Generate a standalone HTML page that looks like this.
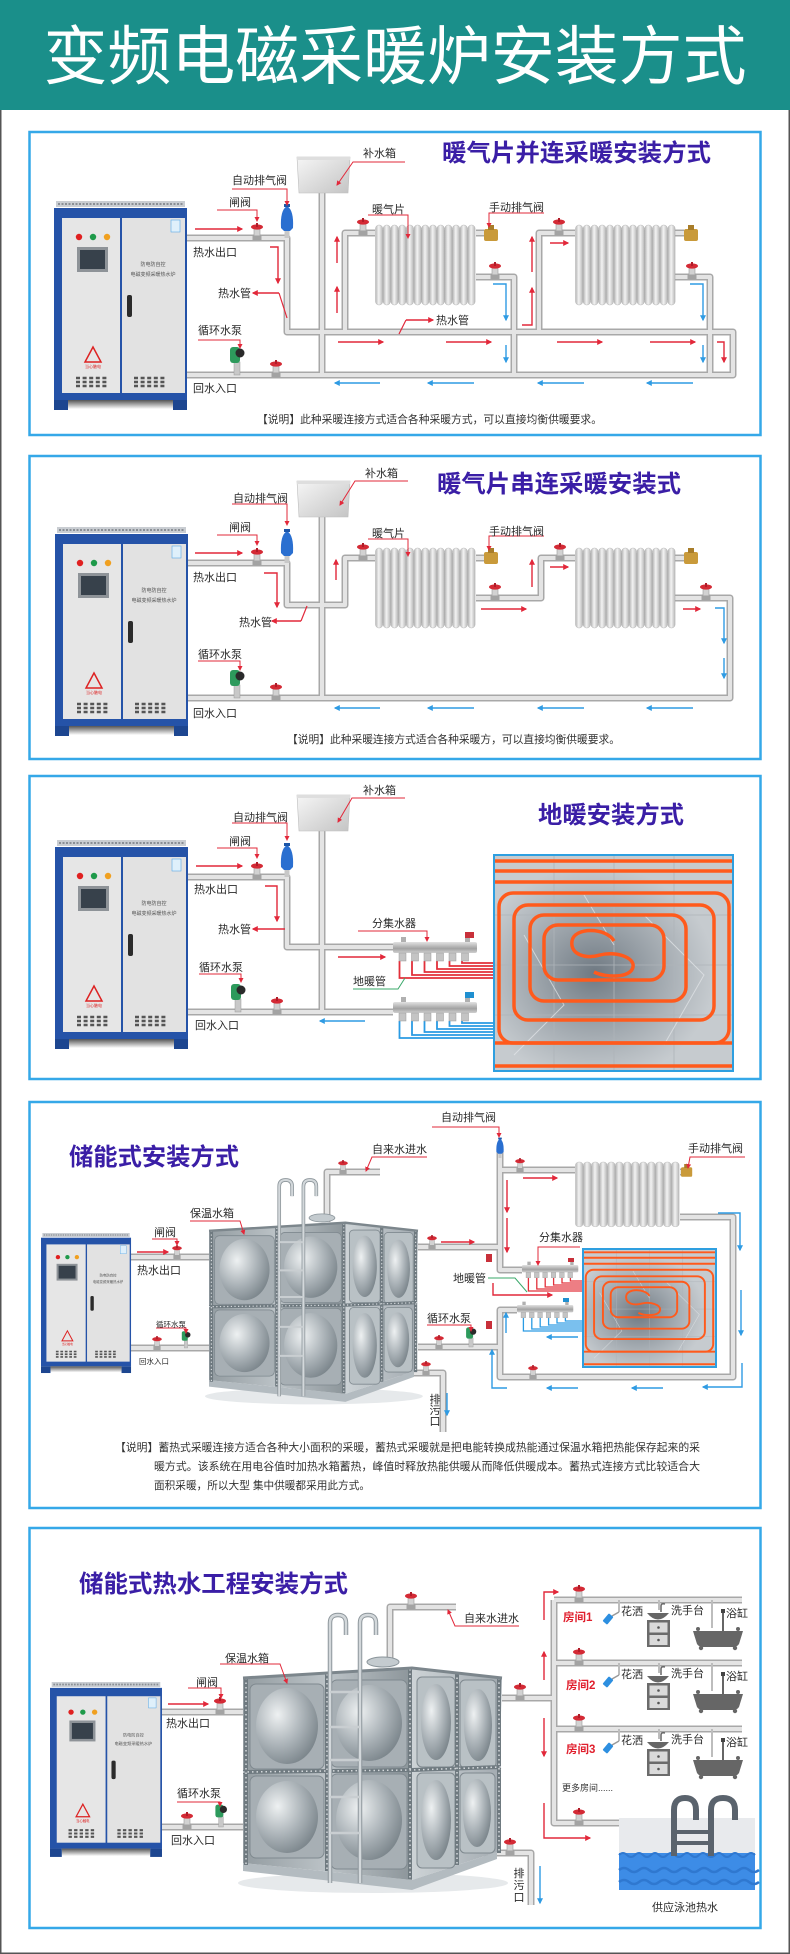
<!DOCTYPE html>
<html><head><meta charset="utf-8">
<style>
html,body{margin:0;padding:0;background:#fff;}
svg{display:block;}
text{font-family:"Liberation Sans","Noto Sans CJK SC",sans-serif;}
.l{font-size:11px;fill:#2a2a2a;}
.t{font-size:24px;font-weight:bold;fill:#3a1ea6;}
.d{font-size:11px;fill:#333;}
.po{fill:none;stroke:#a8a8a8;stroke-width:7;stroke-linejoin:round;}
.pi{fill:none;stroke:#e4e4e4;stroke-width:4;stroke-linejoin:round;}
.ra path{fill:none;stroke:#e2283a;stroke-width:1.4;marker-end:url(#mr);}
.ba path{fill:none;stroke:#2f9be3;stroke-width:1.4;marker-end:url(#mb);}
.ld path{fill:none;stroke:#e2283a;stroke-width:1;marker-end:url(#ms);}
.gl{fill:none;stroke:#3aa86a;stroke-width:1;}
.pb{fill:none;stroke:#35a8e8;stroke-width:2.5;}
</style></head>
<body>
<svg width="790" height="1954" viewBox="0 0 790 1954" xmlns="http://www.w3.org/2000/svg">
<defs>
<marker id="mr" viewBox="0 0 10 10" refX="8" refY="5" markerUnits="userSpaceOnUse" markerWidth="7" markerHeight="6" orient="auto"><path d="M0 0L10 5L0 10z" fill="#e2283a"/></marker>
<marker id="mb" viewBox="0 0 10 10" refX="8" refY="5" markerUnits="userSpaceOnUse" markerWidth="7" markerHeight="6" orient="auto"><path d="M0 0L10 5L0 10z" fill="#2f9be3"/></marker>
<marker id="ms" viewBox="0 0 10 10" refX="8" refY="5" markerUnits="userSpaceOnUse" markerWidth="5" markerHeight="5" orient="auto"><path d="M0 0L10 5L0 10z" fill="#e2283a"/></marker>
<linearGradient id="gRib" x1="0" x2="1"><stop offset="0" stop-color="#b5b5b5"/><stop offset=".45" stop-color="#f3f3f3"/><stop offset="1" stop-color="#b9b9b9"/></linearGradient>
<linearGradient id="gBox" x1="0" x2="1" y1="0" y2="1"><stop offset="0" stop-color="#f6f6f6"/><stop offset="1" stop-color="#c4c4c4"/></linearGradient>
<linearGradient id="gMf" x1="0" x2="0" y1="0" y2="1"><stop offset="0" stop-color="#e2e2e2"/><stop offset=".6" stop-color="#a2a2a2"/><stop offset="1" stop-color="#cfcfcf"/></linearGradient>
<linearGradient id="gFeet" x1="0" x2="0" y1="0" y2="1"><stop offset="0" stop-color="#555"/><stop offset="1" stop-color="#fff"/></linearGradient>
<linearGradient id="gTf" x1="0" x2="1"><stop offset="0" stop-color="#939ca1"/><stop offset=".5" stop-color="#bcc3c7"/><stop offset="1" stop-color="#8c959a"/></linearGradient>
<linearGradient id="gTr" x1="0" x2="1"><stop offset="0" stop-color="#cdd3d6"/><stop offset="1" stop-color="#a2aab0"/></linearGradient>
<radialGradient id="gBul" cx=".35" cy=".35" r=".7"><stop offset="0" stop-color="#eef1f2"/><stop offset=".6" stop-color="#a9b1b6"/><stop offset="1" stop-color="#7d878d"/></radialGradient>
<radialGradient id="gFhC" cx=".42" cy=".55" r=".5"><stop offset="0" stop-color="#5f6a74" stop-opacity=".85"/><stop offset="1" stop-color="#6f7a84" stop-opacity="0"/></radialGradient>

<g id="cab">
 <rect x="2" y="0" width="129" height="6" fill="#c9cdd2"/>
 <line x1="4" y1="3" x2="129" y2="3" stroke="#8a8f95" stroke-width="2" stroke-dasharray="2 1.5"/>
 <rect x="0" y="7" width="133" height="192" fill="#2553a8"/>
 <rect x="8" y="17" width="58" height="175" fill="#e6e6e6"/>
 <rect x="68" y="17" width="63" height="175" fill="#e2e2e2"/>
 <rect x="14" y="199" width="105" height="9" fill="url(#gFeet)"/>
 <rect x="0" y="199" width="14" height="10" fill="#1d4690"/>
 <rect x="119" y="199" width="14" height="10" fill="#1d4690"/>
 <circle cx="25" cy="36" r="3.2" fill="#e02020"/>
 <circle cx="39" cy="36" r="3.2" fill="#1e9a4a"/>
 <circle cx="53" cy="36" r="3.2" fill="#f0a020"/>
 <rect x="23" y="46" width="31" height="25" fill="#8e9398"/>
 <rect x="26" y="49" width="25" height="19" fill="#37414b"/>
 <text x="99" y="65" font-size="5" fill="#555" text-anchor="middle">防电防自控</text>
 <text x="99" y="75" font-size="5" fill="#555" text-anchor="middle">电磁变频采暖热水炉</text>
 <rect x="73" y="94" width="5" height="22" rx="2" fill="#2b2b2b"/>
 <path d="M39 146L47 161H31Z" fill="none" stroke="#d22" stroke-width="1.5"/>
 <text x="39" y="167" font-size="4" fill="#d22" text-anchor="middle">当心触电</text>
 <path d="M22 177H55M22 181H55M22 185H55M80 177H113M80 181H113M80 185H113" stroke="#555" stroke-width="2.5" stroke-dasharray="4 2.6"/>
 <rect x="117" y="19" width="9" height="12" fill="#dff0fb" stroke="#5aa9e6" stroke-width=".6"/>
</g>

<g id="rad">
 <rect x="1" y="5" width="99" height="70" fill="#c6c6c6"/>
 <rect x="0.5" y="0" width="7.2" height="80" rx="3.5" fill="url(#gRib)" stroke="#a8a8a8" stroke-width=".4"/>
 <rect x="8.2" y="0" width="7.2" height="80" rx="3.5" fill="url(#gRib)" stroke="#a8a8a8" stroke-width=".4"/>
 <rect x="15.9" y="0" width="7.2" height="80" rx="3.5" fill="url(#gRib)" stroke="#a8a8a8" stroke-width=".4"/>
 <rect x="23.6" y="0" width="7.2" height="80" rx="3.5" fill="url(#gRib)" stroke="#a8a8a8" stroke-width=".4"/>
 <rect x="31.3" y="0" width="7.2" height="80" rx="3.5" fill="url(#gRib)" stroke="#a8a8a8" stroke-width=".4"/>
 <rect x="39" y="0" width="7.2" height="80" rx="3.5" fill="url(#gRib)" stroke="#a8a8a8" stroke-width=".4"/>
 <rect x="46.7" y="0" width="7.2" height="80" rx="3.5" fill="url(#gRib)" stroke="#a8a8a8" stroke-width=".4"/>
 <rect x="54.4" y="0" width="7.2" height="80" rx="3.5" fill="url(#gRib)" stroke="#a8a8a8" stroke-width=".4"/>
 <rect x="62.1" y="0" width="7.2" height="80" rx="3.5" fill="url(#gRib)" stroke="#a8a8a8" stroke-width=".4"/>
 <rect x="69.8" y="0" width="7.2" height="80" rx="3.5" fill="url(#gRib)" stroke="#a8a8a8" stroke-width=".4"/>
 <rect x="77.5" y="0" width="7.2" height="80" rx="3.5" fill="url(#gRib)" stroke="#a8a8a8" stroke-width=".4"/>
 <rect x="85.2" y="0" width="7.2" height="80" rx="3.5" fill="url(#gRib)" stroke="#a8a8a8" stroke-width=".4"/>
 <rect x="92.9" y="0" width="7.2" height="80" rx="3.5" fill="url(#gRib)" stroke="#a8a8a8" stroke-width=".4"/>
</g>

<g id="mv"><rect x="0" y="-6" width="14" height="12" rx="2" fill="#c99a3a"/><rect x="4" y="-10" width="6" height="5" fill="#a87d2a"/></g>
<g id="xt"><path d="M0 0H53L51 36H2Z" fill="url(#gBox)" stroke="#bdbdbd" stroke-width=".6"/><rect x="0" y="0" width="53" height="3" fill="#dedede"/></g>
<g id="vl"><rect x="-3" y="-10" width="6" height="10" fill="#d2d2d2" stroke="#9a9a9a" stroke-width=".6"/><rect x="-4.5" y="-2.5" width="9" height="5" fill="#a3a3a3"/><ellipse cx="0" cy="-11" rx="6" ry="2.6" fill="#d42a35"/><rect x="-1" y="-15" width="2" height="4" fill="#b01c28"/></g>
<g id="pm"><rect x="-3" y="-13" width="6" height="13" fill="#c8c8c8" stroke="#999" stroke-width=".5"/><rect x="-7" y="-28" width="10" height="16" rx="3" fill="#2d9a5c"/><circle cx="3" cy="-22" r="4.5" fill="#2a2a2a"/></g>
<g id="av"><rect x="-2.5" y="-9" width="5" height="9" fill="#c8c8c8"/><path d="M-6 -10Q-7 -28 0 -32Q7 -28 6 -10L3 -7H-3Z" fill="#2a6fd0"/><rect x="-3" y="-34" width="6" height="3" fill="#1d56a8"/></g>
<g id="mf">
 <rect x="8" y="-5" width="5" height="6" fill="#b0b0b0"/><rect x="72" y="-5" width="5" height="6" fill="#b0b0b0"/>
 <rect x="0" y="0" width="84" height="11" rx="2" fill="url(#gMf)"/>
 <rect x="6" y="11" width="7" height="8" fill="#c4c4c4" stroke="#999" stroke-width=".5"/>
 <rect x="18.5" y="11" width="7" height="8" fill="#c4c4c4" stroke="#999" stroke-width=".5"/>
 <rect x="31" y="11" width="7" height="8" fill="#c4c4c4" stroke="#999" stroke-width=".5"/>
 <rect x="43.5" y="11" width="7" height="8" fill="#c4c4c4" stroke="#999" stroke-width=".5"/>
 <rect x="56" y="11" width="7" height="8" fill="#c4c4c4" stroke="#999" stroke-width=".5"/>
 <rect x="68.5" y="11" width="7" height="8" fill="#c4c4c4" stroke="#999" stroke-width=".5"/>
</g>
<g id="fh">
 <rect width="240" height="216" fill="#c6cbcf"/>
 <rect width="240" height="216" fill="url(#gFhC)"/>
 <path d="M0 60H240M0 110H240M0 160H240M60 0V216M120 0V216M180 0V216" stroke="#aeb4b9" stroke-width=".8" fill="none"/>
 <path d="M30 80L70 150L20 200M150 60L210 120L170 190M90 40L120 90" stroke="#e4e7e9" stroke-width="1" fill="none" opacity=".7"/>
 <g fill="none" stroke="#ff5a1c" stroke-width="3.5">
  <path d="M0 6H240M0 16H240M0 27H240M0 188H240M0 211H240"/>
  <rect x="5" y="38" width="230" height="150" rx="14"/>
  <rect x="20" y="50" width="200" height="115" rx="14"/>
  <rect x="36" y="60" width="156" height="86" rx="14"/>
  <rect x="50" y="70" width="120" height="55" rx="14"/>
  <path d="M120 86C112 72 80 72 78 86C76 100 92 104 106 100C121 96 141 102 139 112C137 123 112 123 100 117"/>
 </g>
</g>
<g id="tank">
 <ellipse cx="130" cy="268" rx="135" ry="10" fill="#e6e9eb"/>
 <path d="M0 248L169 265L254 237V244L169 275L0 256Z" fill="#b3bbc0"/>
 <path d="M0 63L169 53V265L0 248Z" fill="url(#gTf)"/>
 <path d="M169 53L259 63L254 237L169 265Z" fill="url(#gTr)"/>
 <g stroke="#7f898f" stroke-width="1" fill="#a7afb4">
  <rect x="7" y="69" width="74" height="85" rx="6"/>
  <rect x="88" y="65" width="76" height="87" rx="6"/>
  <rect x="7" y="161" width="74" height="82" rx="6"/>
  <rect x="88" y="159" width="76" height="95" rx="6"/>
  <rect x="174" y="62" width="38" height="90" rx="5" fill="#b9c1c5"/>
  <rect x="217" y="65" width="36" height="88" rx="5" fill="#b9c1c5"/>
  <rect x="174" y="158" width="38" height="95" rx="5" fill="#b9c1c5"/>
  <rect x="217" y="158" width="35" height="80" rx="5" fill="#b9c1c5"/>
 </g>
 <g fill="url(#gBul)">
  <ellipse cx="44" cy="111" rx="31" ry="38"/>
  <ellipse cx="126" cy="108" rx="33" ry="38"/>
  <ellipse cx="44" cy="202" rx="31" ry="36"/>
  <ellipse cx="126" cy="205" rx="33" ry="40"/>
  <ellipse cx="193" cy="107" rx="15" ry="38"/>
  <ellipse cx="235" cy="110" rx="14" ry="36"/>
  <ellipse cx="193" cy="205" rx="15" ry="40"/>
  <ellipse cx="234" cy="198" rx="14" ry="34"/>
 </g>
 <path d="M3 63V250M84 59V256M167 54V264M214 58V250M256 63V238M0 157L169 155L258 152" stroke="#6f7a80" stroke-width="4" fill="none"/>
 <path d="M3 63V250M84 59V256M167 54V264M214 58V250M256 63V238M0 157L169 155L258 152" stroke="#d6dadd" stroke-width="1.5" stroke-dasharray="1.5 3" fill="none"/>
 <path d="M0 63L169 53L259 63" stroke="#7c868c" stroke-width="3" fill="none"/>
 <ellipse cx="140" cy="47" rx="16" ry="5" fill="#c4cbcf" stroke="#8a949a"/>
 <path d="M87 268V8Q87 0 95 0Q103 0 103 8V20M117 268V8Q117 0 125 0Q133 0 133 8V20" stroke="#8d969b" stroke-width="4.5" fill="none"/>
 <path d="M87 268V8Q87 0 95 0Q103 0 103 8V20M117 268V8Q117 0 125 0Q133 0 133 8V20" stroke="#d3d8db" stroke-width="2.5" fill="none"/>
 <path d="M87 77H117M87 112H117M87 145H117M87 182H117M87 218H117" stroke="#c9ced1" stroke-width="2.5"/>
</g>
<g id="room">
 <path d="M79 0V12M119 0V10M172 0V28" stroke="#bdbdbd" stroke-width="2"/>
 <path d="M79 12L72 16" stroke="#999" stroke-width="1.5"/>
 <g transform="translate(68,19) rotate(40)"><rect x="-3" y="-5" width="6" height="10" rx="1" fill="#2d8fe0"/></g>
 <path d="M107 13Q118 26 129 13Z" fill="#666"/>
 <path d="M121 12V6Q121 3 125 4" stroke="#666" stroke-width="1.5" fill="none"/>
 <rect x="107" y="20" width="23" height="27" fill="#6b6b6b"/>
 <rect x="109.5" y="22.5" width="18" height="10" fill="#dadada"/>
 <rect x="109.5" y="35" width="18" height="10" fill="#dadada"/>
 <circle cx="118.5" cy="27.5" r="1.3" fill="#555"/><circle cx="118.5" cy="40" r="1.3" fill="#555"/>
 <path d="M153 31H203L199 44Q197 47 193 47H163Q159 47 157 44Z" fill="#666"/>
 <circle cx="161" cy="48" r="2.2" fill="#666"/><circle cx="195" cy="48" r="2.2" fill="#666"/>
 <circle cx="158" cy="29" r="2" fill="#666"/><circle cx="198" cy="29" r="2" fill="#666"/>
 <path d="M183 11V31" stroke="#555" stroke-width="1.8"/><rect x="181" y="9" width="4" height="4" fill="#444"/>
 <text class="l" x="81" y="15">花洒</text>
 <text class="l" x="131" y="14">洗手台</text>
 <text class="l" x="186" y="17">浴缸</text>
</g>

<path id="pp1" d="M187 238H287V332H733V375H187M322 193V375M345 332V233H375M476 277H514V375M539 332V233H575M675 277H710V375M476 233H484M675 233H684"/>
<path id="pp2" d="M187 563H287V605H345V558H375M476 598H541V558H575M675 598H730V698H187M322 516V698M476 558H484M675 558H684"/>
<path id="pp3" d="M187 877H287V947H393M187 1012H393M322 829V1012"/>
<path id="pp4" d="M131 1257H210M131 1348H210M327 1222V1172H380M418 1247H500M500 1150V1270H522M500 1170H575M680 1217H733V1377H500V1310H517M418 1347H500M400 1373H443V1432M680 1172H682"/>
<path id="pp5" d="M162 1712H243M162 1827H243M390 1660V1607H456M502 1698H554M554 1600V1823H619M554 1600H742M554 1663H742M554 1729H742M484 1853H531V1905"/>
</defs>

<!-- page -->
<rect x="0" y="0" width="790" height="110" fill="#1a8f8a"/>
<text x="395" y="79" font-size="64" fill="#fff" text-anchor="middle" textLength="703" lengthAdjust="spacingAndGlyphs">变频电磁采暖炉安装方式</text>
<path d="M0.75 110V1953.25H789.25V110" fill="none" stroke="#555" stroke-width="1.5"/>

<!-- panel borders -->
<rect class="pb" x="29.5" y="132" width="731" height="303"/>
<rect class="pb" x="29.5" y="456" width="731" height="303"/>
<rect class="pb" x="29.5" y="776" width="731" height="303"/>
<rect class="pb" x="29.5" y="1102" width="731" height="406"/>
<rect class="pb" x="29.5" y="1528" width="731" height="400"/>

<!-- titles -->
<text class="t" x="442" y="161" textLength="269" lengthAdjust="spacingAndGlyphs">暖气片并连采暖安装方式</text>
<text class="t" x="437" y="492" textLength="244" lengthAdjust="spacingAndGlyphs">暖气片串连采暖安装式</text>
<text class="t" x="538" y="823" textLength="146" lengthAdjust="spacingAndGlyphs">地暖安装方式</text>
<text class="t" x="69" y="1165" textLength="170" lengthAdjust="spacingAndGlyphs">储能式安装方式</text>
<text class="t" x="79" y="1592" textLength="269" lengthAdjust="spacingAndGlyphs">储能式热水工程安装方式</text>

<!-- ============ PANEL 1 ============ -->
<use href="#pp1" class="po"/><use href="#pp1" class="pi"/>
<use href="#cab" transform="translate(54,201)"/>
<use href="#xt" transform="translate(297,157)"/>
<use href="#rad" transform="translate(375,225)"/>
<use href="#rad" transform="translate(575,225)"/>
<use href="#mv" transform="translate(484,235)"/>
<use href="#mv" transform="translate(684,235)"/>
<use href="#av" transform="translate(287,238)"/>
<use href="#vl" transform="translate(257,238)"/>
<use href="#vl" transform="translate(363,233)"/>
<use href="#vl" transform="translate(495,277)"/>
<use href="#vl" transform="translate(559,233)"/>
<use href="#vl" transform="translate(692,277)"/>
<use href="#vl" transform="translate(276,375)"/>
<use href="#pm" transform="translate(237,375)"/>
<g class="ra">
 <path d="M195 229H242"/><path d="M270 247H278V283"/><path d="M279 293H253"/>
 <path d="M338 342H383"/><path d="M446 342H491"/><path d="M557 342H602"/><path d="M650 342H695"/>
 <path d="M337 313V287"/><path d="M337 263V237"/><path d="M522 325H532V288"/><path d="M532 272V237"/>
 <path d="M550 243H568"/><path d="M717 342H724V362"/><path d="M406 320H433"/>
</g>
<path d="M279 293L287 318M399 334L406 320" stroke="#e2283a" stroke-width="1.2" fill="none"/>
<g class="ba">
 <path d="M493 284H506V320"/><path d="M506 345V362"/><path d="M690 284H703V320"/><path d="M703 345V362"/>
 <path d="M380 383H335"/><path d="M474 383H428"/><path d="M584 383H538"/><path d="M693 383H647"/>
</g>
<g class="ld">
 <path d="M405 162H353L337 185"/><path d="M232 189H287V205"/><path d="M217 210H257V221"/>
 <path d="M198 340H240V348"/><path d="M368 215H408V238"/><path d="M544 213H489V227"/>
</g>
<text class="l" x="363" y="157">补水箱</text>
<text class="l" x="232" y="184">自动排气阀</text>
<text class="l" x="229" y="206">闸阀</text>
<text class="l" x="193" y="256">热水出口</text>
<text class="l" x="218" y="297">热水管</text>
<text class="l" x="198" y="334">循环水泵</text>
<text class="l" x="193" y="392">回水入口</text>
<text class="l" x="372" y="213">暖气片</text>
<text class="l" x="489" y="211">手动排气阀</text>
<text class="l" x="436" y="324">热水管</text>
<text class="d" x="257" y="423" textLength="345" lengthAdjust="spacingAndGlyphs">【说明】此种采暖连接方式适合各种采暖方式，可以直接均衡供暖要求。</text>

<!-- ============ PANEL 2 ============ -->
<use href="#pp2" class="po"/><use href="#pp2" class="pi"/>
<use href="#cab" transform="translate(55,527)"/>
<use href="#xt" transform="translate(297,481)"/>
<use href="#rad" transform="translate(375,548)"/>
<use href="#rad" transform="translate(575,548)"/>
<use href="#mv" transform="translate(484,558)"/>
<use href="#mv" transform="translate(684,558)"/>
<use href="#av" transform="translate(287,563)"/>
<use href="#vl" transform="translate(257,563)"/>
<use href="#vl" transform="translate(363,558)"/>
<use href="#vl" transform="translate(495,598)"/>
<use href="#vl" transform="translate(560,558)"/>
<use href="#vl" transform="translate(706,598)"/>
<use href="#vl" transform="translate(276,698)"/>
<use href="#pm" transform="translate(237,698)"/>
<g class="ra">
 <path d="M195 553H242"/><path d="M264 573H277V607"/><path d="M301 621H272"/>
 <path d="M336 580V560"/><path d="M481 609H526"/><path d="M532 587V560"/><path d="M550 567H568"/><path d="M683 609H700"/>
</g>
<path d="M301 621L307 606" stroke="#e2283a" stroke-width="1.2" fill="none"/>
<g class="ba">
 <path d="M715 608H724V643"/><path d="M724 658V678"/>
 <path d="M380 708H335"/><path d="M474 708H428"/><path d="M584 708H538"/><path d="M693 708H647"/>
</g>
<g class="ld">
 <path d="M408 481H355L340 505"/><path d="M232 504H287V525"/><path d="M217 535H257V545"/>
 <path d="M198 661H240V670"/><path d="M368 539H408V556"/><path d="M544 536H489V550"/>
</g>
<text class="l" x="365" y="477">补水箱</text>
<text class="l" x="233" y="502">自动排气阀</text>
<text class="l" x="229" y="531">闸阀</text>
<text class="l" x="193" y="581">热水出口</text>
<text class="l" x="239" y="626">热水管</text>
<text class="l" x="198" y="658">循环水泵</text>
<text class="l" x="193" y="717">回水入口</text>
<text class="l" x="372" y="537">暖气片</text>
<text class="l" x="489" y="535">手动排气阀</text>
<text class="d" x="287" y="743" textLength="333" lengthAdjust="spacingAndGlyphs">【说明】此种采暖连接方式适合各种采暖方，可以直接均衡供暖要求。</text>

<!-- ============ PANEL 3 ============ -->
<use href="#pp3" class="po"/><use href="#pp3" class="pi"/>
<use href="#cab" transform="translate(55,840)"/>
<use href="#xt" transform="translate(297,795)"/>
<use href="#av" transform="translate(287,877)"/>
<use href="#vl" transform="translate(257,877)"/>
<use href="#vl" transform="translate(277,1012)"/>
<use href="#pm" transform="translate(238,1012)"/>
<g fill="none" stroke="#e2303a" stroke-width="1.8">
 <path d="M399.5 961V978H494"/><path d="M412 961V975H494"/><path d="M424.5 961V972H494"/><path d="M437 961V969H494"/><path d="M449.5 961V966H494"/><path d="M462 961V963H494"/>
</g>
<g fill="none" stroke="#2a9be3" stroke-width="1.8">
 <path d="M399.5 1021V1038H494"/><path d="M412 1021V1035H494"/><path d="M424.5 1021V1032H494"/><path d="M437 1021V1029H494"/><path d="M449.5 1021V1026H494"/><path d="M462 1021V1023H494"/>
</g>
<use href="#mf" transform="translate(393,942)"/>
<use href="#mf" transform="translate(393,1002)"/>
<rect x="465" y="932" width="9" height="6" fill="#c8303a"/>
<rect x="465" y="992" width="9" height="6" fill="#1f8fd0"/>
<use href="#fh" transform="translate(494,855)"/>
<rect x="494" y="855" width="239" height="216" fill="none" stroke="#2e9fe0" stroke-width="2"/>
<g class="ra"><path d="M196 866H242"/><path d="M265 886H277V921"/><path d="M285 929H253"/><path d="M338 957H385"/></g>
<g class="ba"><path d="M365 1021H320"/></g>
<g class="ld">
 <path d="M405 798H352L338 822"/><path d="M232 823H287V840"/><path d="M217 848H257V858"/>
 <path d="M199 974H241V982"/><path d="M358 931H427V941"/>
</g>
<path class="gl" d="M353 989H398L405 978"/>
<text class="l" x="363" y="794">补水箱</text>
<text class="l" x="233" y="821">自动排气阀</text>
<text class="l" x="229" y="845">闸阀</text>
<text class="l" x="194" y="893">热水出口</text>
<text class="l" x="218" y="933">热水管</text>
<text class="l" x="199" y="971">循环水泵</text>
<text class="l" x="195" y="1029">回水入口</text>
<text class="l" x="372" y="927">分集水器</text>
<text class="l" x="353" y="985">地暖管</text>

<!-- ============ PANEL 4 ============ -->
<use href="#pp4" class="po"/><use href="#pp4" class="pi"/>
<use href="#cab" transform="translate(41,1233) scale(0.677,0.67)"/>
<use href="#tank" transform="translate(209,1180) scale(0.807)"/>
<use href="#rad" transform="translate(575,1162) scale(1.04,0.81)"/>
<use href="#mv" transform="translate(681,1172) scale(0.8)"/>
<use href="#av" transform="translate(500,1158) scale(0.6)"/>
<use href="#vl" transform="translate(177,1257) scale(0.8)"/>
<use href="#vl" transform="translate(157,1348) scale(0.8)"/>
<use href="#pm" transform="translate(186,1348) scale(0.6)"/>
<use href="#vl" transform="translate(343,1172) scale(0.8)"/>
<use href="#vl" transform="translate(432,1247) scale(0.8)"/>
<use href="#vl" transform="translate(520,1170) scale(0.8)"/>
<use href="#vl" transform="translate(533,1377) scale(0.8)"/>
<use href="#vl" transform="translate(439,1347) scale(0.8)"/>
<use href="#pm" transform="translate(471,1347) scale(0.7)"/>
<use href="#vl" transform="translate(426,1373) scale(0.8)"/>
<rect x="486" y="1254" width="6" height="8" fill="#c8303a"/>
<rect x="486" y="1321" width="6" height="8" fill="#c8303a"/>
<g fill="none" stroke="#e2303a" stroke-width="1.3">
 <path d="M528.4 1278V1291H583"/><path d="M536.8 1278V1289H583"/><path d="M545.2 1278V1287H583"/><path d="M553.6 1278V1285H583"/><path d="M562 1278V1283H583"/><path d="M570.4 1278V1281H583"/>
</g>
<g fill="none" stroke="#2a9be3" stroke-width="1.3">
 <path d="M523.4 1318V1331H583"/><path d="M531.8 1318V1329H583"/><path d="M540.2 1318V1327H583"/><path d="M548.6 1318V1325H583"/><path d="M557 1318V1323H583"/><path d="M565.4 1318V1321H583"/>
</g>
<use href="#mf" transform="translate(522,1265) scale(0.67)"/>
<use href="#mf" transform="translate(517,1305) scale(0.67)"/>
<rect x="568" y="1258" width="6" height="4" fill="#c8303a"/>
<rect x="563" y="1298" width="6" height="4" fill="#1f8fd0"/>
<use href="#fh" transform="translate(583,1249) scale(0.554,0.546)"/>
<rect x="583" y="1249" width="133" height="118" fill="none" stroke="#2e9fe0" stroke-width="2"/>
<g class="ra">
 <path d="M137 1252H168"/><path d="M441 1242H474"/><path d="M523 1178H557"/>
 <path d="M507 1180V1212"/><path d="M507 1218V1252"/><path d="M493 1283V1295H552"/>
</g>
<g class="ba">
 <path d="M718 1213H740V1250"/><path d="M741 1290V1335"/><path d="M742 1363V1387H703"/>
 <path d="M578 1337H547"/><path d="M578 1388H547"/><path d="M663 1388H632"/>
 <path d="M507 1388H492V1350"/><path d="M506 1333V1313"/><path d="M447 1393V1415"/>
</g>
<g class="ld">
 <path d="M427 1157H372L366 1171"/><path d="M190 1221H240L244 1234"/><path d="M152 1239H177V1245"/>
 <path d="M156 1328H186V1333"/><path d="M432 1127H499V1137"/><path d="M745 1157H690L688 1168"/>
 <path d="M580 1247H538V1265"/><path d="M427 1325H471V1331"/>
</g>
<path class="gl" d="M488 1278H515L527 1292"/>
<text class="l" x="372" y="1153">自来水进水</text>
<text class="l" x="190" y="1217">保温水箱</text>
<text class="l" x="154" y="1236">闸阀</text>
<text class="l" x="137" y="1274" font-size="10.5">热水出口</text>
<text class="l" x="156" y="1327" style="font-size:7.5px">循环水泵</text>
<text class="l" x="139" y="1364" style="font-size:7.5px">回水入口</text>
<text class="l" x="441" y="1121">自动排气阀</text>
<text class="l" x="688" y="1152">手动排气阀</text>
<text class="l" x="539" y="1241">分集水器</text>
<text class="l" x="453" y="1282">地暖管</text>
<text class="l" x="427" y="1322">循环水泵</text>
<text class="l" x="435" y="1403" text-anchor="middle">排</text>
<text class="l" x="435" y="1414" text-anchor="middle">污</text>
<text class="l" x="435" y="1425" text-anchor="middle">口</text>
<text class="d" x="115" y="1451" textLength="585" lengthAdjust="spacingAndGlyphs">【说明】蓄热式采暖连接方适合各种大小面积的采暖，蓄热式采暖就是把电能转换成热能通过保温水箱把热能保存起来的采</text>
<text class="d" x="154" y="1470" textLength="546" lengthAdjust="spacingAndGlyphs">暖方式。该系统在用电谷值时加热水箱蓄热，峰值时释放热能供暖从而降低供暖成本。蓄热式连接方式比较适合大</text>
<text class="d" x="154" y="1489" textLength="216" lengthAdjust="spacingAndGlyphs">面积采暖，所以大型 集中供暖都采用此方式。</text>

<!-- ============ PANEL 5 ============ -->
<use href="#pp5" class="po"/><use href="#pp5" class="pi"/>
<use href="#cab" transform="translate(50,1682) scale(0.842,0.837)"/>
<use href="#tank" transform="translate(243,1615)"/>
<use href="#vl" transform="translate(220,1712)"/>
<use href="#vl" transform="translate(187,1827)"/>
<use href="#pm" transform="translate(221,1827) scale(0.8)"/>
<use href="#vl" transform="translate(411,1607)"/>
<use href="#vl" transform="translate(520,1698)"/>
<use href="#vl" transform="translate(579,1600)"/>
<use href="#vl" transform="translate(579,1663)"/>
<use href="#vl" transform="translate(579,1729)"/>
<use href="#vl" transform="translate(579,1823)"/>
<use href="#vl" transform="translate(510,1853)"/>
<use href="#room" transform="translate(540,1600)"/>
<use href="#room" transform="translate(540,1663)"/>
<use href="#room" transform="translate(540,1729)"/>
<g transform="translate(619,1818)">
 <rect x="0" y="0" width="136" height="36" fill="#e8eaed"/>
 <rect x="0" y="35" width="136" height="37" fill="#3d8ce6"/>
 <path d="M0 37Q4 33 8 37T16 37T24 37T32 37T40 37T48 37T56 37T64 37T72 37T80 37T88 37T96 37T104 37T112 37T120 37T128 37T136 37" fill="none" stroke="#2f78d0" stroke-width="2"/>
 <path d="M0 52Q5 48 10 52T20 52T30 52T40 52T50 52T60 52T70 52T80 52T90 52T100 52T110 52T120 52T130 52T140 52M0 64Q5 60 10 64T20 64T30 64T40 64T50 64T60 64T70 64T80 64T90 64T100 64T110 64T120 64T130 64T140 64" fill="none" stroke="#2f78d0" stroke-width="2.5"/>
 <path d="M55 38V-8Q55 -20 66 -20Q77 -20 77 -8V2M92 38V-8Q92 -20 104 -20Q116 -20 116 -8V2" fill="none" stroke="#5a636d" stroke-width="6"/>
 <rect x="55" y="12" width="37" height="4" fill="#5a636d"/>
 <rect x="55" y="23" width="37" height="4" fill="#5a636d"/>
</g>
<g class="ra">
 <path d="M168 1704H208"/><path d="M544 1620V1592H558"/><path d="M544 1680V1652"/>
 <path d="M544 1718V1756"/><path d="M544 1803V1838H590"/>
</g>
<g class="ba"><path d="M540 1866V1903"/></g>
<g class="ld">
 <path d="M220 1664H280L287 1683"/><path d="M188 1688H221V1698"/><path d="M177 1802H220V1806"/>
 <path d="M519 1626H455L448 1610"/>
</g>
<text class="l" x="225" y="1662">保温水箱</text>
<text class="l" x="196" y="1686">闸阀</text>
<text class="l" x="166" y="1727" font-size="11.5">热水出口</text>
<text class="l" x="177" y="1797">循环水泵</text>
<text class="l" x="171" y="1844" font-size="11.5">回水入口</text>
<text class="l" x="464" y="1622">自来水进水</text>
<text x="563" y="1621" font-size="11.5" font-weight="bold" fill="#e0202e">房间1</text>
<text x="566" y="1689" font-size="11.5" font-weight="bold" fill="#e0202e">房间2</text>
<text x="566" y="1753" font-size="11.5" font-weight="bold" fill="#e0202e">房间3</text>
<text x="562" y="1791" font-size="9" fill="#333">更多房间......</text>
<text class="l" x="652" y="1911">供应泳池热水</text>
<text class="l" x="519" y="1877" text-anchor="middle">排</text>
<text class="l" x="519" y="1889" text-anchor="middle">污</text>
<text class="l" x="519" y="1901" text-anchor="middle">口</text>
</svg>
</body></html>
